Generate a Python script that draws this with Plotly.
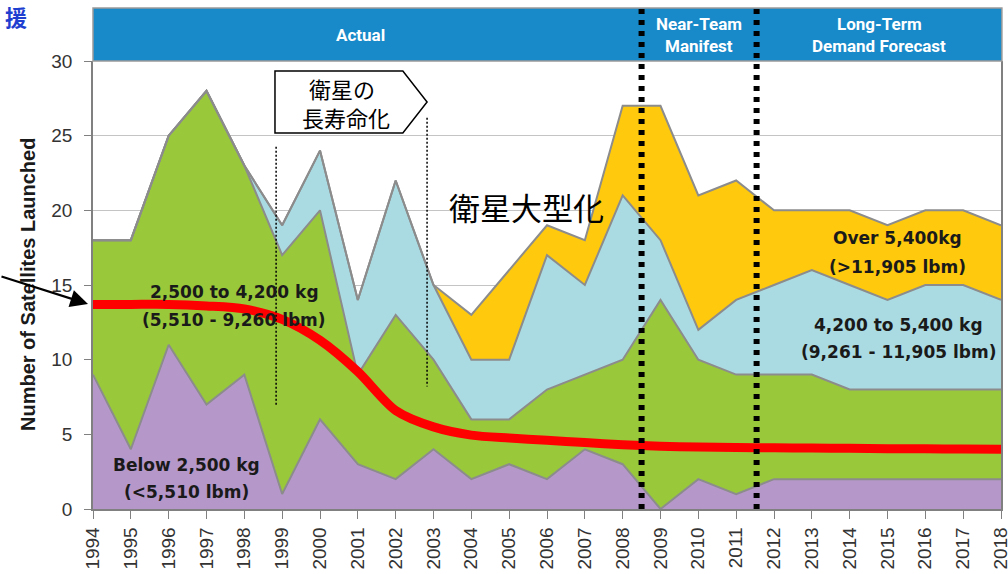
import plotly.graph_objects as go

years = list(range(1994, 2019))
tick_labels = [str(y) for y in years]

# Satellites launched per mass class (stacked)
below_2500 = [9, 4, 11, 7, 9, 1, 6, 3, 2, 4, 2, 3, 2, 4, 3, 0, 2, 1, 2, 2, 2, 2, 2, 2, 2]
mid_2500_4200 = [9, 14, 14, 21, 14, 16, 14, 6, 11, 6, 4, 3, 6, 5, 7, 14, 8, 8, 7, 7, 6, 6, 6, 6, 6]
mid_4200_5400 = [0, 0, 0, 0, 0, 2, 4, 5, 9, 5, 4, 4, 9, 6, 11, 4, 2, 5, 6, 7, 7, 6, 7, 7, 6]
over_5400 = [0, 0, 0, 0, 0, 0, 0, 0, 0, 0, 3, 6, 2, 3, 6, 9, 9, 8, 5, 4, 5, 5, 5, 5, 5]

# Red trend curve
trend = [13.7, 13.7, 13.7, 13.6, 13.4, 12.7, 11.3, 9.2, 6.6, 5.5, 4.95, 4.75, 4.6, 4.45,
         4.3, 4.2, 4.15, 4.12, 4.1, 4.08, 4.06, 4.04, 4.03, 4.02, 4.0]

series_names = ["Below 2,500 kg", "2,500 to 4,200 kg", "4,200 to 5,400 kg", "Over 5,400kg"]
series_values = [below_2500, mid_2500_4200, mid_4200_5400, over_5400]
series_colors = ["#B597C9", "#99C93B", "#AADBE3", "#FFC90E"]

fig = go.Figure()
for name, vals, col in zip(series_names, series_values, series_colors):
    fig.add_trace(go.Scatter(
        x=years, y=vals, name=name, stackgroup="one", mode="lines",
        line=dict(color="#8C8C8C", width=2), fillcolor=col, showlegend=False))

fig.add_trace(go.Scatter(x=years, y=trend, mode="lines",
                         line=dict(color="#FF0000", width=9, shape="spline", smoothing=0.8),
                         showlegend=False))

HDR_TOP = (509 - 8) / 448
shapes = []
# header bar
shapes.append(dict(type="rect", xref="paper", yref="paper", x0=0, x1=1.001, y0=1, y1=HDR_TOP,
                   fillcolor="#1889C9", line=dict(color="#9A9A9A", width=1.5), layer="above"))
# thick dotted separators
for xv in [2008.5, 2011.54]:
    shapes.append(dict(type="line", xref="x", yref="paper", x0=xv, x1=xv, y0=0, y1=HDR_TOP,
                       line=dict(color="black", width=6, dash="5px,6px"), layer="above"))
# thin dotted lines
shapes.append(dict(type="line", xref="x", yref="y", x0=1998.84, x1=1998.84, y0=24.25, y1=6.95,
                   line=dict(color="black", width=1.5, dash="2px,2px"), layer="above"))
shapes.append(dict(type="line", xref="x", yref="y", x0=2002.83, x1=2002.83, y0=26.2, y1=8.2,
                   line=dict(color="black", width=1.5, dash="2px,2px"), layer="above"))
# pentagon callout
shapes.append(dict(type="path", xref="x", yref="y",
                   path="M 1998.81 29.33 L 2002.19 29.33 L 2002.83 27.25 L 2002.19 25.18 L 1998.81 25.18 Z",
                   fillcolor="white", line=dict(color="black", width=1.5), layer="above"))

lab_font = dict(family="DejaVu Sans", size=17, color="#1A1A1A")
hdr_font = dict(family="Roboto", size=17, color="white")


def px_x(p):
    return (p - 93) / 908


def px_y(p):
    return (509 - p) / 448


annotations = []


def txt(text, x, y, font, **kw):
    annotations.append(dict(text=text, x=px_x(x), y=px_y(y), xref="paper", yref="paper",
                            showarrow=False, font=font, xanchor="center", yanchor="middle", **kw))


txt("<b>Actual</b>", 360, 35, hdr_font)
txt("<b>Near-Team</b>", 699, 24, hdr_font)
txt("<b>Manifest</b>", 699, 46, hdr_font)
txt("<b>Long-Term</b>", 879, 24, hdr_font)
txt("<b>Demand Forecast</b>", 879, 46, hdr_font)

txt("<b>2,500 to 4,200 kg</b>", 234, 292, lab_font)
txt("<b>(5,510 - 9,260 lbm)</b>", 234, 320, lab_font)
txt("<b>Below 2,500 kg</b>", 186, 465, lab_font)
txt("<b>(&lt;5,510 lbm)</b>", 186, 492, lab_font)
txt("<b>Over 5,400kg</b>", 897, 238, lab_font)
txt("<b>(&gt;11,905 lbm)</b>", 897, 267, lab_font)
txt("<b>4,200 to 5,400 kg</b>", 898, 325, lab_font)
txt("<b>(9,261 - 11,905 lbm)</b>", 898, 352, lab_font)

cjk = dict(family="Noto Sans CJK JP", size=22, color="black")
txt("衛星の", 342, 88, cjk)
txt("長寿命化", 346, 117, cjk)
txt("衛星大型化", 526, 207, dict(family="Noto Sans CJK JP", size=31, color="black"))
txt("<b>援</b>", 16, 16, dict(family="Noto Sans CJK JP", size=22, color="#1F3FD0"))

txt("<b>Number of Satellites Launched</b>", 28, 285,
    dict(family="Arial, Liberation Sans", size=20, color="#1A1A1A"), textangle=-90)

# arrow pointing at the trend line
annotations.append(dict(x=px_x(88), y=px_y(304), xref="paper", yref="paper", text="",
                        showarrow=True, ax=-88, ay=-28, arrowhead=2, arrowsize=1.6,
                        arrowwidth=2.2, arrowcolor="black"))

fig.update_layout(
    width=1008, height=574,
    margin=dict(l=93, r=7, t=61, b=65, autoexpand=False),
    paper_bgcolor="white", plot_bgcolor="white",
    shapes=shapes, annotations=annotations,
    xaxis=dict(range=[1994, 2018], tickmode="array", tickvals=years, ticktext=tick_labels,
               tickangle=-90, ticks="outside", ticklen=8, tickcolor="#808080",
               showline=True, linecolor="#808080", linewidth=1.5, showgrid=False,
               ticklabelstandoff=1, automargin=False, ticklabeloverflow="allow",
               tickfont=dict(family="Arial, Liberation Sans", size=19, color="#333333")),
    yaxis=dict(range=[0, 30], tickvals=[0, 5, 10, 15, 20, 25, 30], ticks="outside", ticklen=7,
               tickcolor="#808080", showline=True, linecolor="#808080", linewidth=1.5,
               mirror=True, showgrid=True, gridcolor="#C4C4C4", gridwidth=1,
               zeroline=False, ticklabelstandoff=8, automargin=False,
               tickfont=dict(family="Arial, Liberation Sans", size=19, color="#333333")),
)

fig.write_html("out.html", config={"displayModeBar": False},
               post_script="document.body.style.margin='0';document.body.style.padding='0';")
